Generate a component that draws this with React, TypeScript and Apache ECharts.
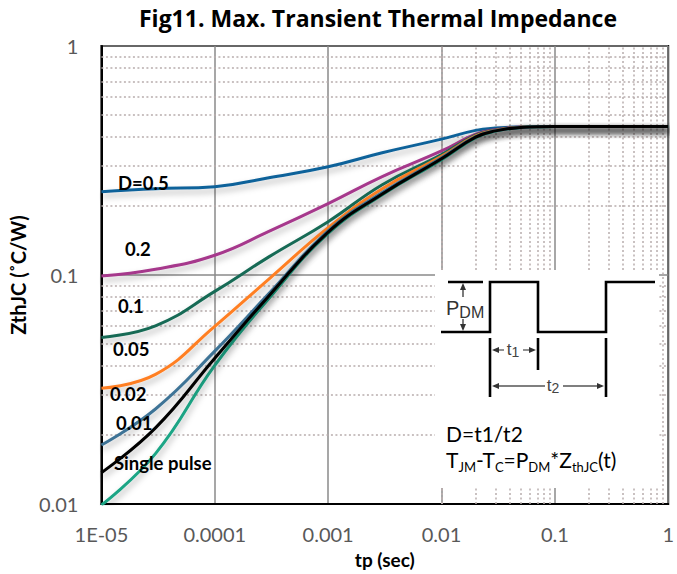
import React, { useEffect, useRef } from 'react';
import * as echarts from 'echarts';

// time points (sec)
const tp = [1e-5, 3e-5, 1e-4, 3e-4, 1e-3, 3e-3, 1e-2, 2e-2, 3e-2, 5e-2, 1e-1, 1];

// Zth (°C/W) per duty cycle
const zD05 = [0.231, 0.238, 0.243, 0.266, 0.297, 0.342, 0.392, 0.428, 0.438, 0.443, 0.445, 0.445];
const zD02 = [0.099, 0.106, 0.122, 0.155, 0.205, 0.269, 0.348, 0.412, 0.431, 0.443, 0.445, 0.445];
const zD01 = [0.0534, 0.06, 0.0848, 0.12, 0.171, 0.248, 0.336, 0.408, 0.429, 0.442, 0.445, 0.445];
const zD005 = [0.032, 0.0368, 0.0597, 0.096, 0.161, 0.238, 0.33, 0.405, 0.428, 0.442, 0.445, 0.445];
const zD002 = [0.0181, 0.026, 0.0465, 0.083, 0.156, 0.229, 0.325, 0.402, 0.427, 0.441, 0.445, 0.445];
const zD001 = [0.0137, 0.0215, 0.0433, 0.081, 0.154, 0.226, 0.322, 0.4, 0.426, 0.441, 0.445, 0.445];
const zSingle = [0.0099, 0.0166, 0.0403, 0.079, 0.152, 0.224, 0.319, 0.398, 0.425, 0.441, 0.445, 0.445];

const seriesNames = ['D=0.5', '0.2', '0.1', '0.05', 'Single pulse', '0.02', '0.01'];
const seriesValues = [zD05, zD02, zD01, zD005, zSingle, zD002, zD001];
const seriesColors = ['#11629a', '#a6388c', '#166a55', '#ff7f24', '#1aa585', '#3e7396', '#000000'];

const xTickLabels = ['1E-05', '0.0001', '0.001', '0.01', '0.1', '1'];
const yTickLabels = ['0.01', '0.1', '1'];

const xDecades = [-5, -4, -3, -2, -1];
const yDecades = [-2, -1];
const minorMultipliers = [2, 3, 4, 5, 6, 7, 8, 9];

const curveLabels = [
  { text: 'D=0.5', x: 118, y: 183 },
  { text: '0.2', x: 125, y: 249 },
  { text: '0.1', x: 118, y: 306 },
  { text: '0.05', x: 113, y: 349 },
  { text: '0.02', x: 110, y: 394 },
  { text: '0.01', x: 116, y: 423 },
  { text: 'Single pulse', x: 114, y: 463 },
];

const FONT = 'Lato, "Open Sans", sans-serif';
const TITLE_FONT = '"Open Sans", Lato, sans-serif';
const ARIAL = '"Liberation Sans", Arial, sans-serif';

function arrowHead(tipX: number, tipY: number, dir: 'l' | 'r' | 'u' | 'd') {
  const L = 7, W = 3;
  let pts: number[][] = [];
  if (dir === 'l') pts = [[tipX, tipY], [tipX + L, tipY - W], [tipX + L, tipY + W]];
  if (dir === 'r') pts = [[tipX, tipY], [tipX - L, tipY - W], [tipX - L, tipY + W]];
  if (dir === 'u') pts = [[tipX, tipY], [tipX - W, tipY + L], [tipX + W, tipY + L]];
  if (dir === 'd') pts = [[tipX, tipY], [tipX - W, tipY - L], [tipX + W, tipY - L]];
  return { type: 'polygon', z: 102, shape: { points: pts }, style: { fill: '#333' } };
}

function seg(x1: number, y1: number, x2: number, y2: number, w: number, color: string) {
  return { type: 'line', z: 101, shape: { x1, y1, x2, y2 }, style: { stroke: color, lineWidth: w } };
}

export default function App() {
  const ref = useRef<HTMLDivElement>(null);
  useEffect(() => {
    const chart = echarts.init(ref.current!, null, { renderer: 'svg' });

    const minorX: any[] = [];
    xDecades.forEach((d) => minorMultipliers.forEach((m) => minorX.push({ xAxis: m * Math.pow(10, d) })));
    const minorY: any[] = [];
    yDecades.forEach((d) => minorMultipliers.forEach((m) => minorY.push({ yAxis: m * Math.pow(10, d) })));

    const curves = seriesNames.map((name, i) => ({
      name,
      type: 'line',
      z: 5,
      smooth: 0.45,
      showSymbol: false,
      symbol: 'none',
      data: tp.map((t, j) => [t, seriesValues[i][j]]),
      lineStyle: {
        color: seriesColors[i],
        width: 3,
        shadowColor: 'rgba(0,0,0,0.3)',
        shadowBlur: 6,
        shadowOffsetX: 1,
        shadowOffsetY: 4,
      },
    }));

    const graphics: any[] = [];
    curveLabels.forEach((c) =>
      graphics.push({
        type: 'text',
        z: 50,
        x: c.x,
        y: c.y,
        style: { text: c.text, fontFamily: FONT, fontWeight: 'bold', fontSize: 18.5, fill: '#000', verticalAlign: 'middle', align: 'left' },
      })
    );

    // inset
    graphics.push({ type: 'rect', z: 100, shape: { x: 435, y: 270, width: 224, height: 218 }, style: { fill: '#fff' } });
    graphics.push({
      type: 'polyline',
      z: 101,
      shape: { points: [[441, 332], [490, 332], [490, 282], [538, 282], [538, 332], [606, 332], [606, 282], [655, 282]] },
      style: { stroke: '#000', lineWidth: 2.6, fill: null },
    });
    graphics.push(seg(448, 282, 483, 282, 2.4, '#000'));
    graphics.push(seg(490, 338, 490, 397, 2.6, '#000'));
    graphics.push(seg(538, 338, 538, 370, 2.6, '#000'));
    graphics.push(seg(606, 338, 606, 397, 2.6, '#000'));
    // PDM arrow
    graphics.push(seg(463, 286, 463, 297, 1.3, '#333'));
    graphics.push(seg(463, 319, 463, 329, 1.3, '#333'));
    graphics.push(arrowHead(463, 283, 'u'));
    graphics.push(arrowHead(463, 331, 'd'));
    // t1 arrow
    graphics.push(seg(494, 350, 504, 350, 1.3, '#555'));
    graphics.push(seg(523, 350, 534, 350, 1.3, '#555'));
    graphics.push(arrowHead(492, 350, 'l'));
    graphics.push(arrowHead(536, 350, 'r'));
    // t2 arrow
    graphics.push(seg(494, 386, 545, 386, 1.3, '#555'));
    graphics.push(seg(563, 386, 602, 386, 1.3, '#555'));
    graphics.push(arrowHead(492, 386, 'l'));
    graphics.push(arrowHead(604, 386, 'r'));
    graphics.push({
      type: 'text', z: 102, x: 446, y: 308,
      style: {
        text: '{p|P}{s|DM}', verticalAlign: 'middle', align: 'left',
        rich: {
          p: { fontFamily: ARIAL, fontSize: 20, fill: '#333', lineHeight: 24 },
          s: { fontFamily: ARIAL, fontSize: 16, fill: '#333', lineHeight: 20, verticalAlign: 'bottom' },
        },
      },
    });
    graphics.push({
      type: 'text', z: 102, x: 513, y: 349,
      style: {
        text: '{t|t}{s|1}', verticalAlign: 'middle', align: 'center',
        rich: {
          t: { fontFamily: ARIAL, fontSize: 17, fill: '#444', lineHeight: 20 },
          s: { fontFamily: ARIAL, fontSize: 14, fill: '#444', lineHeight: 16, verticalAlign: 'bottom' },
        },
      },
    });
    graphics.push({
      type: 'text', z: 102, x: 553, y: 385,
      style: {
        text: '{t|t}{s|2}', verticalAlign: 'middle', align: 'center',
        rich: {
          t: { fontFamily: ARIAL, fontSize: 17, fill: '#444', lineHeight: 20 },
          s: { fontFamily: ARIAL, fontSize: 14, fill: '#444', lineHeight: 16, verticalAlign: 'bottom' },
        },
      },
    });
    graphics.push({
      type: 'text', z: 102, x: 446, y: 433,
      style: { text: 'D=t1/t2', fontFamily: FONT, fontSize: 21, fill: '#000', verticalAlign: 'middle', align: 'left' },
    });
    graphics.push({
      type: 'text', z: 102, x: 446, y: 459,
      style: {
        text: '{n|T}{s|JM}{n|-T}{s|C}{n|=P}{s|DM}{n|*Z}{s|thJC}{n|(t)}', verticalAlign: 'middle', align: 'left',
        rich: {
          n: { fontFamily: FONT, fontSize: 21, fill: '#000', lineHeight: 28 },
          s: { fontFamily: FONT, fontSize: 13, fill: '#000', lineHeight: 14, verticalAlign: 'bottom' },
        },
      },
    });

    const option: any = {
      animation: false,
      backgroundColor: '#fff',
      title: {
        text: 'Fig11. Max. Transient Thermal Impedance',
        left: 378,
        top: 6,
        padding: 0,
        textAlign: 'center',
        textStyle: { fontFamily: TITLE_FONT, fontWeight: 'bold', fontSize: 23, color: '#000' },
      },
      grid: { left: 100, right: 7, top: 46, bottom: 69, show: true, borderColor: '#000', borderWidth: 2, backgroundColor: 'transparent' },
      xAxis: {
        type: 'log',
        logBase: 10,
        min: 1e-5,
        max: 1,
        interval: 1,
        name: 'tp (sec)',
        nameLocation: 'middle',
        nameGap: 46,
        nameTextStyle: { fontFamily: FONT, fontWeight: 'bold', fontSize: 19, color: '#000' },
        axisLine: { show: true, lineStyle: { color: '#000', width: 2 } },
        axisTick: { show: false },
        axisLabel: {
          margin: 20,
          fontFamily: FONT,
          fontSize: 20,
          color: '#595959',
          formatter: (v: number) => xTickLabels[Math.round(Math.log10(v)) + 5] ?? '',
        },
        splitLine: { show: true, lineStyle: { color: '#8a8a8a', width: 1.5 } },
      },
      yAxis: {
        type: 'log',
        logBase: 10,
        min: 0.01,
        max: 1,
        interval: 1,
        name: 'ZthJC (˚C/W)',
        nameLocation: 'middle',
        nameGap: 45,
        nameTextStyle: { fontFamily: FONT, fontWeight: 'bold', fontSize: 20, color: '#000' },
        axisLine: { show: true, lineStyle: { color: '#000', width: 2 } },
        axisTick: { show: false },
        axisLabel: {
          margin: 23,
          fontFamily: FONT,
          fontSize: 20,
          color: '#595959',
          formatter: (v: number) => yTickLabels[Math.round(Math.log10(v)) + 2] ?? '',
        },
        splitLine: { show: true, lineStyle: { color: '#8a8a8a', width: 1.5 } },
      },
      series: [
        {
          name: 'minor-grid',
          type: 'line',
          z: 1,
          data: [],
          silent: true,
          markLine: {
            silent: true,
            symbol: 'none',
            label: { show: false },
            lineStyle: { color: '#b8adad', width: 1.5, type: [2, 2.5] },
            data: [...minorX, ...minorY],
          },
        },
        ...curves,
      ],
      graphic: graphics,
    };
    chart.setOption(option);
    return () => chart.dispose();
  }, []);
  return <div ref={ref} style={{ position: 'absolute', left: 0, top: 0, width: 677, height: 574 }} />;
}
